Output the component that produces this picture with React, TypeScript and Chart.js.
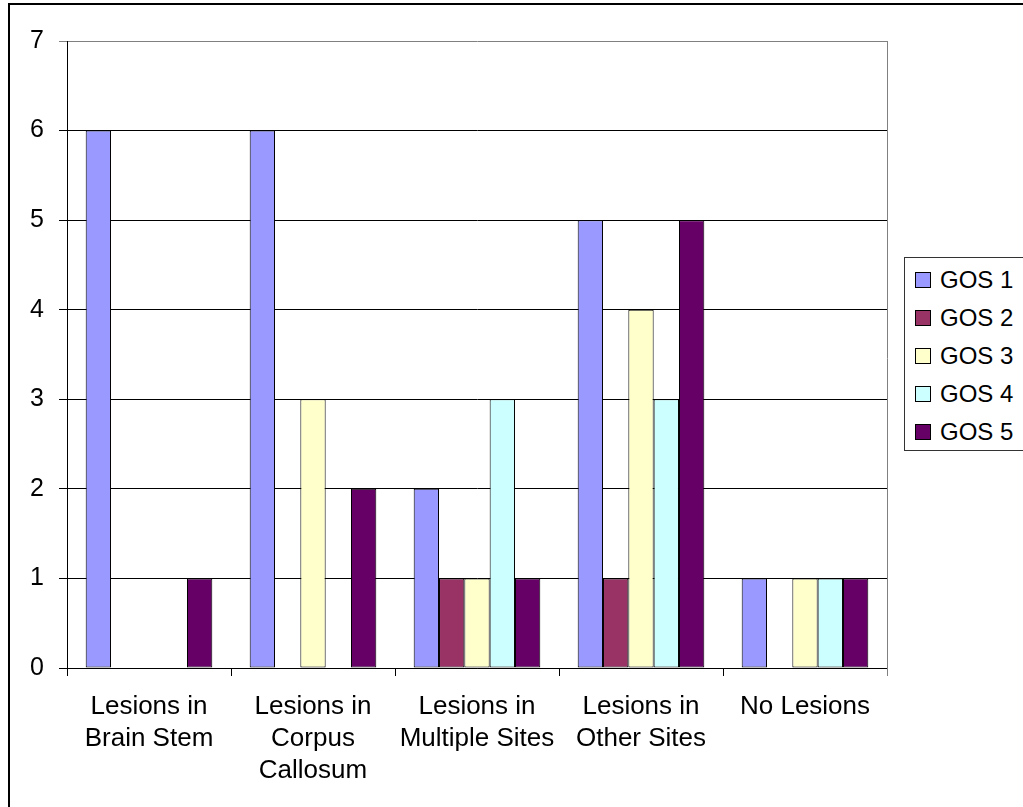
import React, { useEffect, useRef } from 'react';
import { Chart, registerables } from 'chart.js';

Chart.register(...registerables);

const categories: (string | string[])[] = [
  ['Lesions in', 'Brain Stem'],
  ['Lesions in', 'Corpus', 'Callosum'],
  ['Lesions in', 'Multiple Sites'],
  ['Lesions in', 'Other Sites'],
  'No Lesions',
];
const seriesNames = ['GOS 1', 'GOS 2', 'GOS 3', 'GOS 4', 'GOS 5'];
const gos1 = [6, 6, 2, 5, 1];
const gos2 = [0, 0, 1, 1, 0];
const gos3 = [0, 3, 1, 4, 1];
const gos4 = [0, 0, 3, 3, 1];
const gos5 = [1, 2, 1, 5, 1];
const seriesColors = ['#9999FF', '#993366', '#FFFFCC', '#CCFFFF', '#660066'];
const yMin = 0;
const yMax = 7;
const yStep = 1;

const FONT = '"Liberation Sans", Arial, sans-serif';

const plotBorder = {
  id: 'plotBorder',
  beforeDatasetsDraw(chart: any) {
    const { ctx, chartArea } = chart;
    ctx.save();
    ctx.strokeStyle = '#808080';
    ctx.lineWidth = 1;
    ctx.beginPath();
    const x = Math.round(chartArea.right) + 0.5;
    ctx.moveTo(x, chartArea.top);
    ctx.lineTo(x, chartArea.bottom + 8);
    ctx.stroke();
    ctx.restore();
  },
};

export default function App() {
  const ref = useRef<HTMLCanvasElement | null>(null);

  useEffect(() => {
    if (!ref.current) return;
    const all = [gos1, gos2, gos3, gos4, gos5];
    const chart = new Chart(ref.current, {
      type: 'bar',
      data: {
        labels: categories as any,
        datasets: all.map((d, i) => ({
          label: seriesNames[i],
          data: d,
          backgroundColor: seriesColors[i],
          borderColor: '#000000',
          borderWidth: 1,
          borderSkipped: false,
          categoryPercentage: 0.772,
          barPercentage: 1,
        })),
      },
      options: {
        animation: false,
        responsive: false,
        maintainAspectRatio: false,
        layout: { padding: { left: 0, right: 136, top: 41, bottom: 0 } },
        plugins: {
          legend: { display: false },
          tooltip: { enabled: false },
        },
        scales: {
          x: {
            offset: true,
            grid: {
              offset: true,
              drawOnChartArea: false,
              tickLength: 8,
              color: '#000000',
            },
            border: { color: '#000000', width: 1 },
            ticks: {
              color: '#000000',
              padding: 15,
              maxRotation: 0,
              autoSkip: false,
              font: { family: FONT, size: 26, lineHeight: 32 / 26 },
            },
            afterFit: (scale: any) => {
              scale.height = 807 - 668;
            },
          },
          y: {
            min: yMin,
            max: yMax,
            grid: {
              color: (c: any) => (c.tick && c.tick.value === yMax ? '#808080' : '#000000'),
              tickColor: (c: any) => (c.tick && c.tick.value === yMax ? '#808080' : '#000000'),
              tickLength: 8,
            },
            border: { color: '#000000', width: 1 },
            ticks: {
              stepSize: yStep,
              color: '#000000',
              padding: 15,
              font: { family: FONT, size: 25 },
            },
            afterFit: (scale: any) => {
              scale.width = 67;
            },
          },
        },
      },
      plugins: [plotBorder],
    });
    return () => chart.destroy();
  }, []);

  return (
    <div
      style={{
        position: 'fixed',
        left: 0,
        top: 0,
        width: 1023,
        height: 807,
        overflow: 'hidden',
        background: '#ffffff',
      }}
    >
      <div
        style={{
          position: 'absolute',
          left: 8,
          top: 3,
          width: 1200,
          height: 1000,
          border: '2px solid #000000',
          boxSizing: 'border-box',
        }}
      />
      <canvas
        ref={ref}
        width={1023}
        height={807}
        style={{ position: 'absolute', left: 0, top: 0, display: 'block' }}
      />
      <div
        style={{
          position: 'absolute',
          left: 904,
          top: 257,
          width: 140,
          height: 194,
          border: '1px solid #333333',
          boxSizing: 'border-box',
          background: '#ffffff',
          fontFamily: FONT,
          fontSize: 24,
          color: '#000000',
        }}
      >
        {seriesNames.map((name, i) => (
          <div
            key={name}
            style={{
              position: 'absolute',
              left: 10,
              top: 22 + 38 * i - 19,
              height: 38,
              display: 'flex',
              alignItems: 'center',
              whiteSpace: 'nowrap',
            }}
          >
            <span
              style={{
                display: 'inline-block',
                width: 16,
                height: 16,
                background: seriesColors[i],
                border: '1px solid #000000',
                boxSizing: 'border-box',
                marginRight: 9,
              }}
            />
            <span>{name}</span>
          </div>
        ))}
      </div>
    </div>
  );
}
